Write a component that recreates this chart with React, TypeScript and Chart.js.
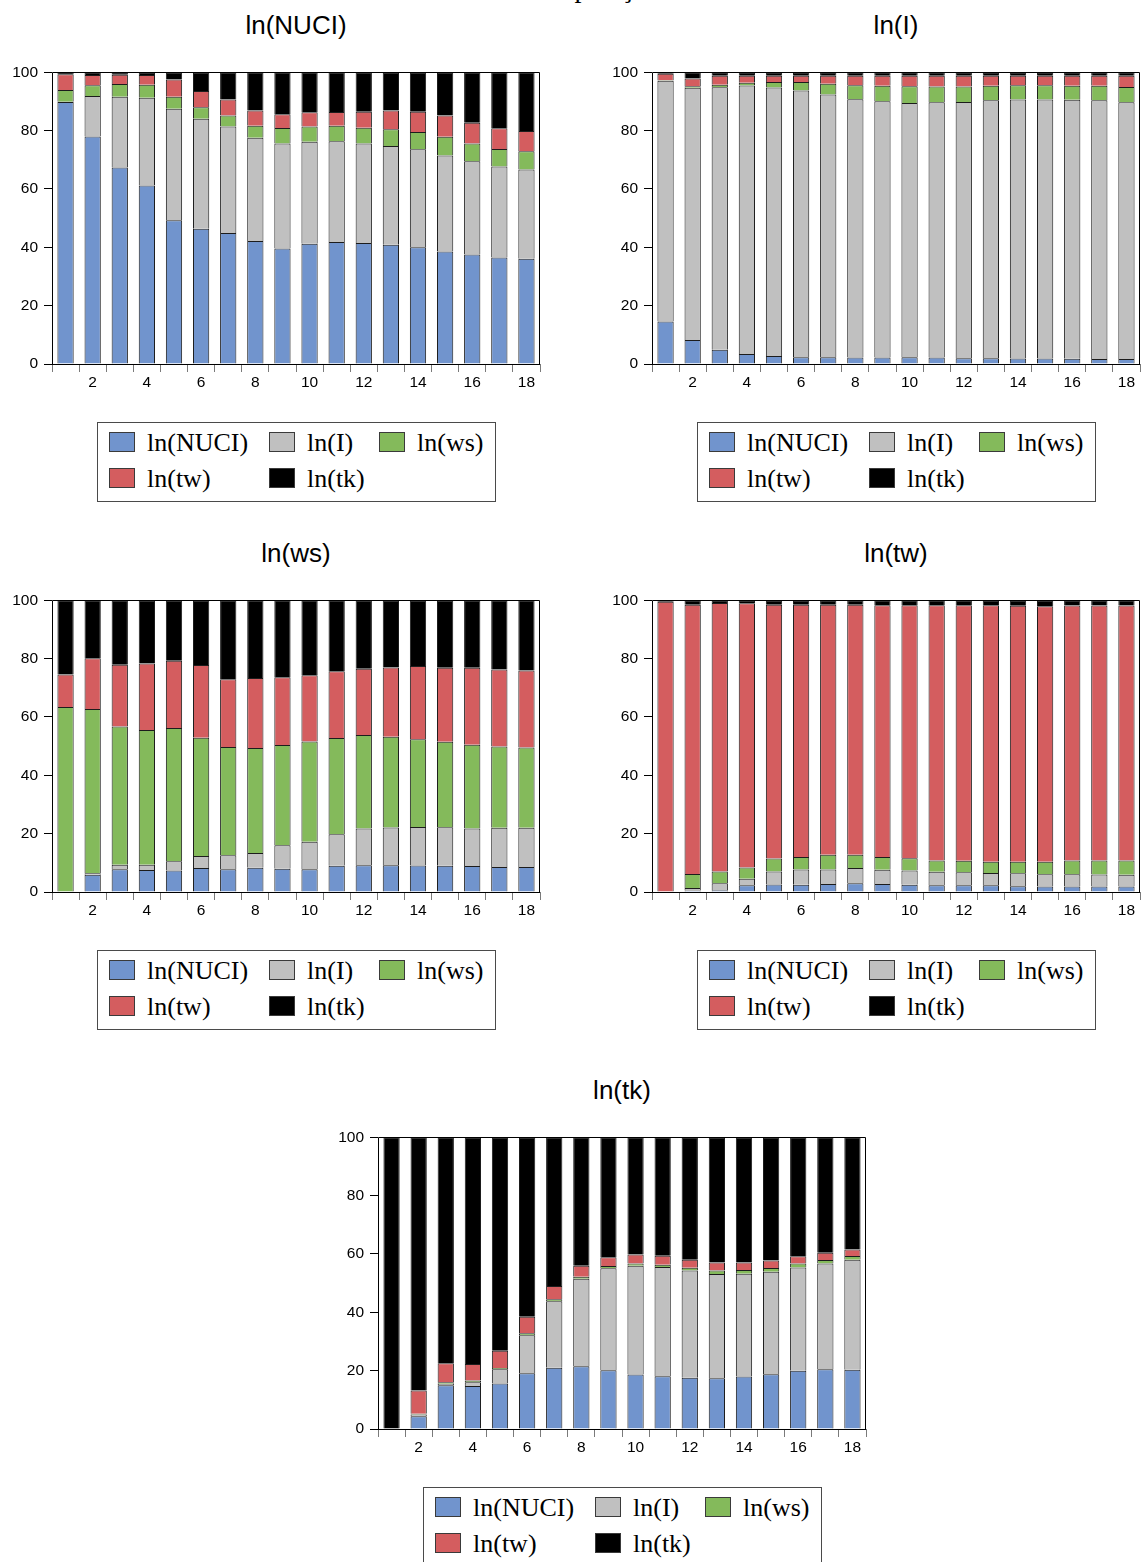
import React, { useEffect, useRef } from 'react';
import { Chart, registerables } from 'chart.js';

Chart.register(...registerables);

// Forecast horizon (periods)
const periods = ['1', '2', '3', '4', '5', '6', '7', '8', '9', '10', '11', '12', '13', '14', '15', '16', '17', '18'];
const yTicks = [0, 20, 40, 60, 80, 100];

const seriesNames = ['ln(NUCI)', 'ln(I)', 'ln(ws)', 'ln(tw)', 'ln(tk)'];
const seriesColors = ['#7194CD', '#C0C0C0', '#84BA5B', '#D45D5F', '#000000'];

// Variance decomposition of ln(NUCI)
const nuciNUCI = [89.8, 78.0, 67.4, 61.2, 49.3, 46.4, 44.9, 42.2, 39.6, 41.2, 41.8, 41.5, 40.9, 40.0, 38.6, 37.5, 36.5, 36.1];
const nuciI = [0.1, 13.9, 24.2, 30.1, 38.2, 37.7, 36.5, 35.4, 36.0, 35.0, 34.6, 34.1, 33.8, 33.6, 32.9, 32.0, 31.2, 30.6];
const nuciWs = [4.0, 3.7, 4.4, 4.4, 4.1, 3.9, 3.8, 4.1, 5.3, 5.2, 5.3, 5.4, 5.8, 5.9, 6.4, 6.1, 6.0, 6.2];
const nuciTw = [5.4, 3.5, 3.2, 3.4, 5.9, 5.6, 5.5, 5.2, 4.7, 4.9, 4.7, 5.5, 6.4, 7.0, 7.3, 7.1, 7.1, 7.0];
const nuciTk = [0.7, 0.9, 0.8, 0.9, 2.5, 6.4, 9.3, 13.1, 14.4, 13.7, 13.6, 13.5, 13.1, 13.5, 14.8, 17.3, 19.2, 20.1];

// Variance decomposition of ln(I)
const invNUCI = [14.6, 8.2, 4.9, 3.4, 2.7, 2.3, 2.3, 2.2, 2.2, 2.3, 2.2, 2.0, 2.0, 1.9, 1.9, 1.8, 1.7, 1.7];
const invI = [82.5, 86.5, 90.0, 92.1, 92.1, 91.5, 90.1, 88.6, 87.9, 87.2, 87.5, 87.8, 88.4, 88.8, 88.8, 88.8, 88.7, 88.0];
const invWs = [0.2, 0.5, 0.8, 0.9, 1.9, 2.9, 3.7, 4.8, 5.3, 5.7, 5.4, 5.3, 5.0, 4.9, 4.9, 4.8, 5.0, 5.3];
const invTw = [2.2, 2.7, 3.1, 2.4, 2.1, 2.1, 2.7, 3.2, 3.4, 3.6, 3.7, 3.7, 3.4, 3.2, 3.2, 3.4, 3.4, 3.8];
const invTk = [0.5, 2.1, 1.2, 1.2, 1.2, 1.2, 1.2, 1.2, 1.2, 1.2, 1.2, 1.2, 1.2, 1.2, 1.2, 1.2, 1.2, 1.2];

// Variance decomposition of ln(ws)
const wsNUCI = [0, 5.9, 7.8, 7.5, 7.4, 8.2, 7.8, 8.3, 8.0, 7.8, 9.0, 9.2, 9.2, 9.1, 9.0, 8.9, 8.6, 8.6];
const wsI = [0, 0.5, 1.5, 1.8, 3.1, 4.1, 4.8, 5.1, 8.0, 9.4, 10.8, 12.6, 12.9, 13.2, 13.2, 12.9, 13.4, 13.4];
const wsWs = [63.4, 56.3, 47.4, 46.2, 45.7, 40.6, 37.1, 36.0, 34.4, 34.4, 33.0, 32.0, 31.1, 30.1, 29.3, 28.7, 27.9, 27.5];
const wsTw = [11.2, 17.4, 21.2, 22.8, 23.1, 24.9, 23.2, 24.0, 23.2, 22.7, 22.9, 22.7, 23.8, 25.1, 25.4, 26.4, 26.4, 26.4];
const wsTk = [25.4, 19.9, 22.1, 21.7, 20.7, 22.2, 27.1, 26.6, 26.4, 25.7, 24.3, 23.5, 23.0, 22.5, 23.1, 23.1, 23.7, 24.1];

// Variance decomposition of ln(tw)
const twNUCI = [0, 0.5, 0.6, 2.3, 2.6, 2.5, 2.7, 3.0, 2.7, 2.5, 2.3, 2.3, 2.3, 2.0, 1.9, 1.9, 1.9, 1.9];
const twI = [0, 0.9, 2.4, 2.2, 4.4, 5.2, 5.0, 5.2, 4.9, 4.9, 4.6, 4.5, 4.2, 4.4, 4.2, 4.2, 4.1, 4.0];
const twWs = [0, 4.8, 4.0, 3.9, 4.5, 4.3, 5.1, 4.6, 4.4, 4.2, 3.9, 3.9, 3.9, 4.0, 4.3, 4.7, 4.8, 4.9];
const twTw = [99.5, 92.3, 92.1, 90.6, 87.0, 86.5, 85.7, 85.7, 86.3, 86.7, 87.5, 87.6, 87.9, 87.7, 87.6, 87.4, 87.4, 87.4];
const twTk = [0.5, 1.5, 0.9, 1.0, 1.5, 1.5, 1.5, 1.5, 1.7, 1.7, 1.7, 1.7, 1.7, 1.9, 2.0, 1.8, 1.8, 1.8];

// Variance decomposition of ln(tk)
const tkNUCI = [0, 4.4, 15.0, 14.7, 15.6, 19.1, 21.0, 21.5, 20.1, 18.7, 18.1, 17.6, 17.4, 18.0, 18.8, 20.0, 20.5, 20.3];
const tkI = [0, 0.6, 0.5, 1.3, 4.9, 13.0, 22.8, 30.0, 35.0, 37.3, 37.4, 36.7, 35.7, 35.2, 35.1, 35.4, 36.2, 37.7];
const tkWs = [0, 0.2, 0.5, 0.6, 0.4, 0.7, 0.7, 0.7, 0.8, 0.7, 0.8, 1.0, 1.2, 1.3, 1.3, 1.3, 1.2, 1.3];
const tkTw = [0, 8.0, 6.5, 5.7, 5.9, 5.7, 4.5, 3.8, 3.0, 3.1, 3.1, 2.7, 2.8, 2.6, 2.6, 2.5, 2.5, 2.2];
const tkTk = [100, 86.8, 77.5, 77.7, 73.2, 61.5, 51.0, 44.0, 41.1, 40.2, 40.6, 42.0, 42.9, 42.9, 42.2, 40.8, 39.6, 38.5];

// Plot geometry (px)
const PLOT_W = 488;
const PLOT_H = 293;
const AXIS_W = 50;
const AXIS_H = 30;
const PAD_TOP = 14;
const PAD_RIGHT = 4;

const sansFont = '"Liberation Sans", Arial, sans-serif';
const serifFont = '"Liberation Serif", "Times New Roman", serif';

// Draws the box around the plot area
const framePlugin = {
  id: 'plotFrame',
  afterDatasetsDraw(chart: any) {
    const { ctx, chartArea: a } = chart;
    const l = Math.round(a.left) + 0.5;
    const r = Math.round(a.right) - 0.5;
    const t = Math.round(a.top) + 0.5;
    const b = Math.round(a.bottom) + 0.5;
    ctx.save();
    ctx.strokeStyle = '#000';
    ctx.lineWidth = 1;
    ctx.beginPath();
    ctx.moveTo(l, b);
    ctx.lineTo(l, t);
    ctx.lineTo(r, t);
    ctx.lineTo(r, b);
    ctx.moveTo(l - 0.5, b);
    ctx.lineTo(r + 0.5, b);
    ctx.stroke();
    ctx.restore();
  },
};

type PanelProps = {
  title: string;
  series: number[][];
  plotLeft: number;
  plotTop: number;
};

function DecompPanel({ title, series, plotLeft, plotTop }: PanelProps) {
  const ref = useRef<HTMLCanvasElement>(null);

  useEffect(() => {
    if (!ref.current) return;
    const chart = new Chart(ref.current, {
      type: 'bar',
      data: {
        labels: periods,
        datasets: seriesNames.map((name, i) => ({
          label: name,
          data: series[i],
          backgroundColor: seriesColors[i],
          borderColor: '#1c1c1c',
          borderWidth: 1,
          borderSkipped: 'start',
          barPercentage: 0.6,
          categoryPercentage: 1,
        })),
      },
      options: {
        responsive: false,
        animation: false,
        events: [],
        layout: { padding: { top: PAD_TOP, right: PAD_RIGHT, left: 0, bottom: 0 } },
        plugins: {
          legend: { display: false },
          title: { display: false },
          tooltip: { enabled: false },
        },
        scales: {
          x: {
            stacked: true,
            offset: true,
            grid: {
              offset: true,
              drawOnChartArea: false,
              drawTicks: true,
              tickLength: 8,
              color: '#7a7a7a',
            },
            border: { display: false },
            ticks: {
              autoSkip: false,
              maxRotation: 0,
              padding: 1,
              color: '#000',
              font: { family: sansFont, size: 15.5 },
              callback: (_v: any, idx: number) => ((idx + 1) % 2 === 0 ? periods[idx] : ''),
            },
            afterFit: (s: any) => {
              s.height = AXIS_H;
            },
          },
          y: {
            stacked: true,
            min: 0,
            max: 100,
            afterBuildTicks: (s: any) => {
              s.ticks = yTicks.map((v) => ({ value: v }));
            },
            grid: {
              drawOnChartArea: false,
              drawTicks: true,
              tickLength: 8,
              color: '#000',
            },
            border: { display: false },
            ticks: {
              padding: 6,
              color: '#000',
              font: { family: sansFont, size: 15.5 },
            },
            afterFit: (s: any) => {
              s.width = AXIS_W;
            },
          },
        },
      },
      plugins: [framePlugin],
    });
    return () => chart.destroy();
  }, []);

  const canvasW = AXIS_W + PLOT_W + PAD_RIGHT;
  const canvasH = PAD_TOP + PLOT_H + AXIS_H;
  const plotBottom = plotTop + PLOT_H;
  const legendLeft = plotLeft + 45;
  const legendTop = plotBottom + 58;

  const legendItems = [
    { i: 0, x: 11, y: 9 },
    { i: 1, x: 171, y: 9 },
    { i: 2, x: 281, y: 9 },
    { i: 3, x: 11, y: 45 },
    { i: 4, x: 171, y: 45 },
  ];

  return (
    <>
      <div
        style={{
          position: 'absolute',
          left: plotLeft,
          top: plotTop - 61,
          width: PLOT_W,
          textAlign: 'center',
          fontFamily: sansFont,
          fontSize: 26,
          lineHeight: '30px',
          color: '#000',
        }}
      >
        {title}
      </div>
      <canvas
        ref={ref}
        width={canvasW}
        height={canvasH}
        style={{
          position: 'absolute',
          left: plotLeft - AXIS_W,
          top: plotTop - PAD_TOP,
          width: canvasW,
          height: canvasH,
        }}
      />
      <div
        style={{
          position: 'absolute',
          left: legendLeft,
          top: legendTop,
          width: 399,
          height: 80,
          boxSizing: 'border-box',
          border: '1px solid #4a4a4a',
          background: '#fff',
        }}
      >
        {legendItems.map(({ i, x, y }) => (
          <React.Fragment key={seriesNames[i]}>
            <div
              style={{
                position: 'absolute',
                left: x,
                top: y,
                width: 26,
                height: 20,
                boxSizing: 'border-box',
                border: '1px solid #3a3a3a',
                background: seriesColors[i],
              }}
            />
            <div
              style={{
                position: 'absolute',
                left: x + 38,
                top: y - 4,
                whiteSpace: 'nowrap',
                fontFamily: serifFont,
                fontSize: 26,
                lineHeight: '30px',
                color: '#000',
              }}
            >
              {seriesNames[i]}
            </div>
          </React.Fragment>
        ))}
      </div>
    </>
  );
}

export default function App() {
  return (
    <div
      style={{
        position: 'absolute',
        left: 0,
        top: 0,
        width: 1141,
        height: 1562,
        overflow: 'hidden',
        background: '#fff',
      }}
    >
      <div
        style={{
          position: 'absolute',
          left: 0,
          top: -28,
          width: 1162,
          textAlign: 'center',
          fontFamily: serifFont,
          fontSize: 28,
          lineHeight: '32px',
          color: '#000',
          whiteSpace: 'nowrap',
        }}
      >
        Gráfico 4 – Decomposição da variância
      </div>
      <DecompPanel title="ln(NUCI)" series={[nuciNUCI, nuciI, nuciWs, nuciTw, nuciTk]} plotLeft={52} plotTop={71} />
      <DecompPanel title="ln(I)" series={[invNUCI, invI, invWs, invTw, invTk]} plotLeft={652} plotTop={71} />
      <DecompPanel title="ln(ws)" series={[wsNUCI, wsI, wsWs, wsTw, wsTk]} plotLeft={52} plotTop={599} />
      <DecompPanel title="ln(tw)" series={[twNUCI, twI, twWs, twTw, twTk]} plotLeft={652} plotTop={599} />
      <DecompPanel title="ln(tk)" series={[tkNUCI, tkI, tkWs, tkTw, tkTk]} plotLeft={378} plotTop={1136} />
    </div>
  );
}
